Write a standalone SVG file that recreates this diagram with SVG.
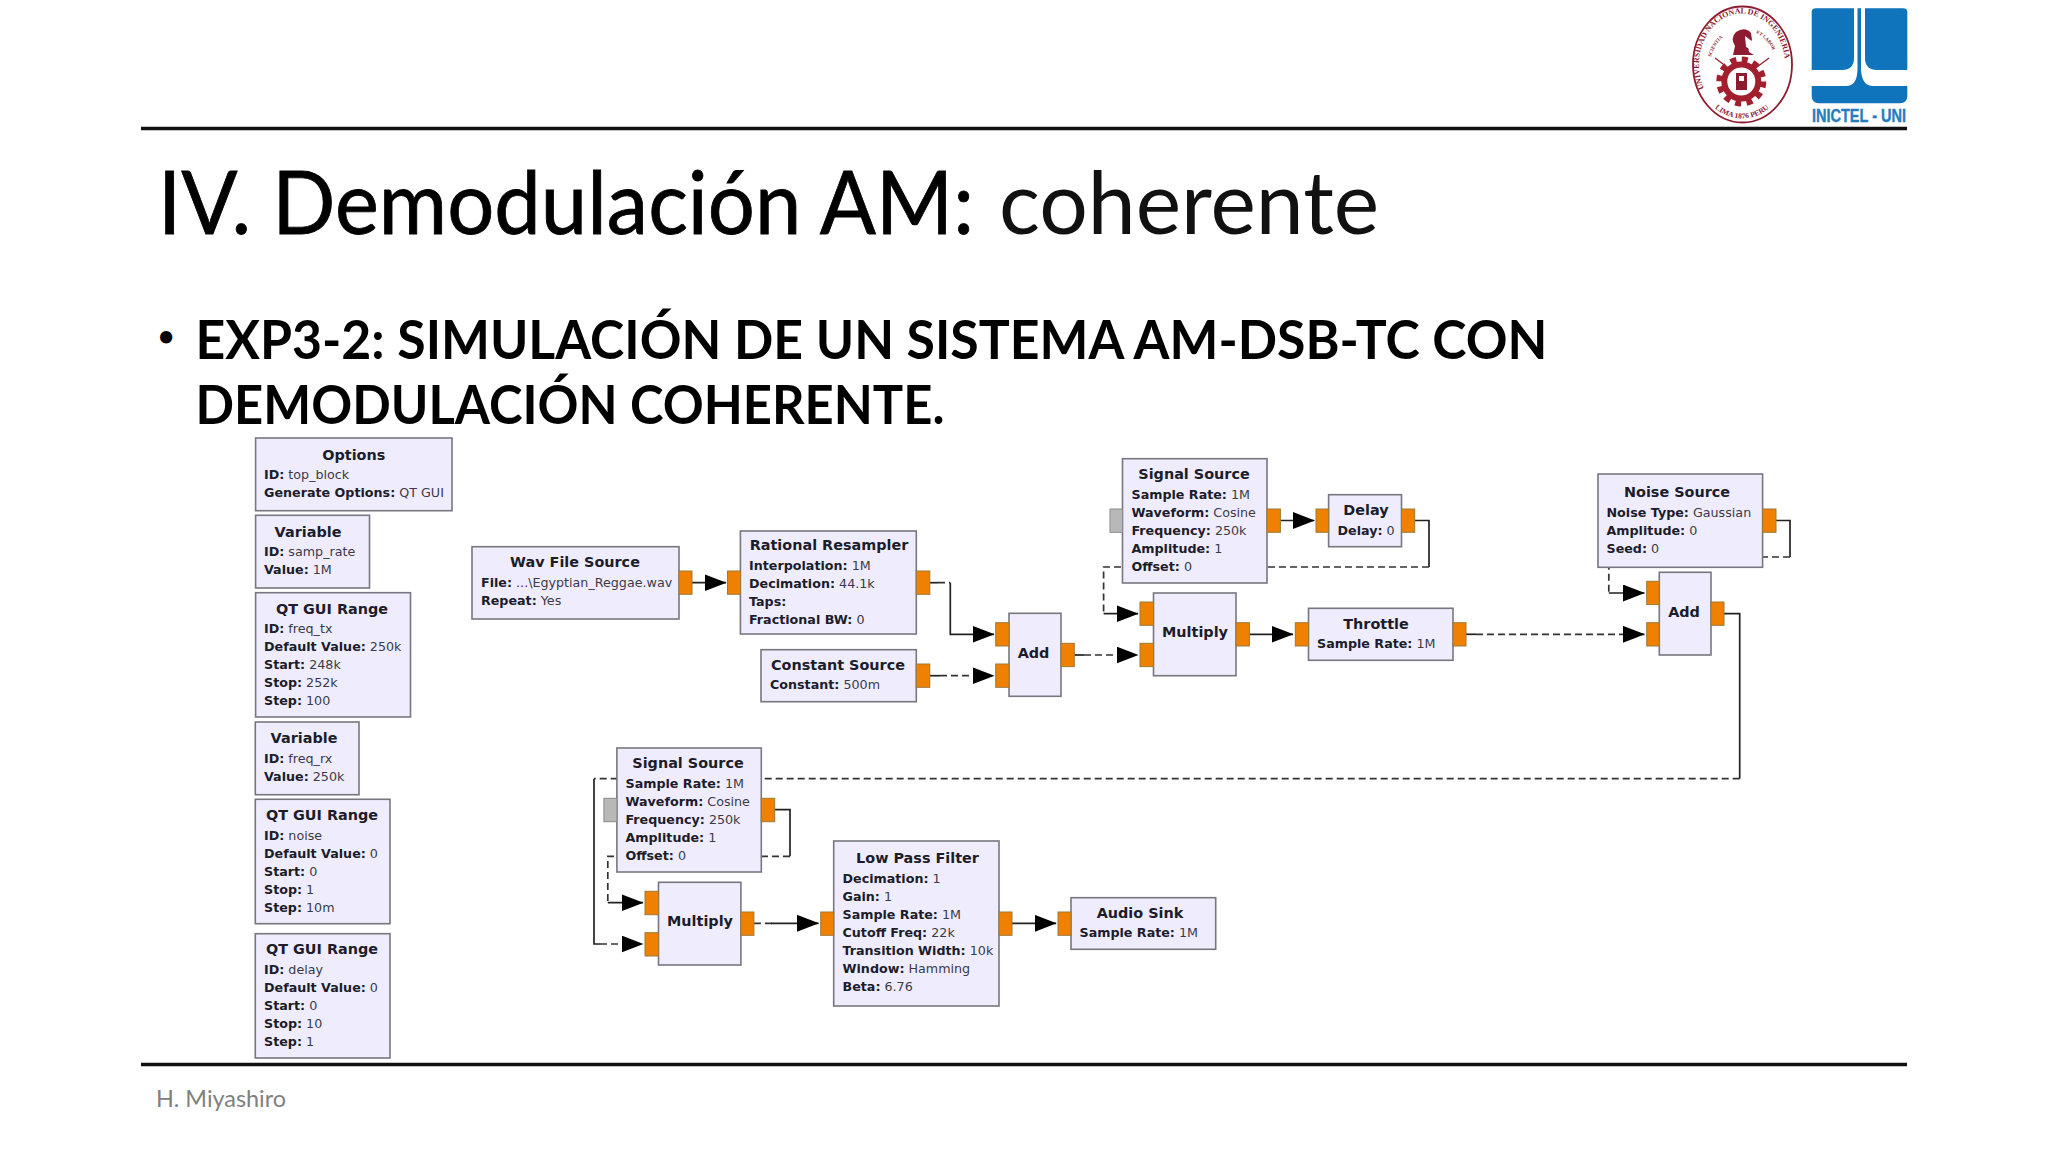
<svg xmlns="http://www.w3.org/2000/svg" width="2048" height="1152" viewBox="0 0 2048 1152">
<style>
.box{fill:#efedfd;stroke:#77777f;stroke-width:1.6}
.port{fill:#f08000;stroke:#9a7a3a;stroke-width:1}
.gray{fill:#b8b8b8;stroke:#8a8a8a;stroke-width:1}
.t{font-family:"DejaVu Sans",sans-serif;font-size:14.4px;font-weight:bold;fill:#1c1c2a;text-anchor:middle}
.l{font-family:"DejaVu Sans",sans-serif;font-size:12.7px;fill:#3a3a48}
.l tspan{font-weight:bold;fill:#1c1c2a}
.c{fill:none;stroke:#222;stroke-width:1.7}
.d{fill:none;stroke:#333;stroke-width:1.7;stroke-dasharray:7 4}
.a{marker-end:url(#arr)}
.rule{stroke:#111;stroke-width:3.5}
.seal{fill:none;stroke:#8e1c30}
.st{font-family:"Liberation Serif",serif;font-weight:bold;fill:#8e1c30}
</style>
<defs>
<marker id="arr" markerUnits="userSpaceOnUse" markerWidth="22" markerHeight="17" viewBox="0 0 22 17" refX="21.5" refY="8.5" orient="auto"><path d="M0 0L22 8.5L0 17Z" fill="#000"/></marker>
</defs>
<rect width="2048" height="1152" fill="#fff"/>
<line class="rule" x1="141" y1="128.500" x2="1907" y2="128.500"/>
<line class="rule" x1="141" y1="1064.500" x2="1907" y2="1064.500"/>
<text x="158" y="234" font-family="Lato,sans-serif" font-size="88" fill="#000" stroke="#000" stroke-width="0.8" textLength="816" lengthAdjust="spacingAndGlyphs">IV. Demodulación AM:</text>
<text x="999" y="234" font-family="Lato,sans-serif" font-size="88" fill="#111" textLength="380" lengthAdjust="spacingAndGlyphs">coherente</text>
<text x="158" y="346" font-family="Lato,sans-serif" font-size="28" font-weight="bold" fill="#000">•</text>
<text x="195.500" y="359" font-family="Lato,sans-serif" font-size="53" font-weight="bold" fill="#000" textLength="1352" lengthAdjust="spacingAndGlyphs">EXP3-2: SIMULACIÓN DE UN SISTEMA AM-DSB-TC CON</text>
<text x="195.500" y="424" font-family="Lato,sans-serif" font-size="53" font-weight="bold" fill="#000" textLength="749" lengthAdjust="spacingAndGlyphs">DEMODULACIÓN COHERENTE.</text>
<text x="156" y="1107" font-family="Lato,sans-serif" font-size="24" fill="#808080" textLength="130" lengthAdjust="spacingAndGlyphs">H. Miyashiro</text>

<g id="logo-uni">
<ellipse class="seal" cx="1742.500" cy="64.500" rx="49.500" ry="58" stroke-width="1.8"/>
<path id="arcTop" d="M1704 88.400A43 51 0 1 1 1780 88.400" fill="none"/>
<path id="arcBot" d="M1712 105.400A46 54 0 0 0 1772 105.400" fill="none"/>
<path id="arcL" d="M1711 57A32 36 0 0 1 1730 33" fill="none"/>
<path id="arcR" d="M1756 33A32 36 0 0 1 1775 57" fill="none"/>
<text class="st" font-size="8"><textPath href="#arcTop">UNIVERSIDAD NACIONAL DE INGENIERIA</textPath></text>
<text class="st" font-size="7.500" text-anchor="middle"><textPath href="#arcBot" startOffset="50%">LIMA 1876 PERU</textPath></text>
<text class="st" font-size="4.800"><textPath href="#arcL">SCIENTIA</textPath></text>
<text class="st" font-size="4.800"><textPath href="#arcR">ET LABOR</textPath></text>
<path d="M1733 55L1735 46Q1730 38 1736 32Q1745 26 1751 33L1752 40L1748 46L1749 52L1754 55Z" fill="#8e1c30"/>
<path d="M1745 36L1753 42L1750 49L1746 47Z" fill="#fff"/>
<path d="M1715 58L1731 70M1769 58L1753 70" stroke="#8e1c30" stroke-width="1.200" fill="none"/>
<circle cx="1741.300" cy="81.500" r="22" fill="none" stroke="#a31f2e" stroke-width="6" stroke-dasharray="6 5.500"/>
<circle cx="1741.300" cy="81.500" r="17" fill="none" stroke="#a31f2e" stroke-width="6"/>
<rect x="1736" y="73" width="11" height="17" fill="#8e1c30"/>
<rect x="1739" y="76" width="5" height="5" fill="#fff"/>
</g>
<g id="logo-inictel">
<path d="M1811.700 12Q1811.700 8.300 1816 8.300H1854V58Q1854 70 1842 70H1811.700Z" fill="#0f74bb"/>
<path d="M1865 8.300H1903Q1907.300 8.300 1907.300 12V70H1877Q1865 70 1865 58Z" fill="#0f74bb"/>
<path d="M1811.700 86H1846Q1857 86 1857.500 70V8.300H1861V70Q1862 86 1873 86H1907.300V96Q1907.300 103.300 1900 103.300H1819Q1811.700 103.300 1811.700 96Z" fill="#0f74bb"/>
<text x="1812" y="122" font-family="Liberation Sans,sans-serif" font-size="18" font-weight="bold" fill="#2a7dbd" stroke="#2a7dbd" stroke-width="0.4" textLength="94" lengthAdjust="spacingAndGlyphs">INICTEL - UNI</text>
</g>

<g id="connectors">
<path class="c a" d="M692 582.700H726"/>
<path class="c" d="M930 582.700H938"/><path class="d" d="M938 582.700H950.300"/><path class="c a" d="M950.300 582.700V634.300H994"/>
<path class="c" d="M930 675.700H940"/><path class="d a" d="M940 675.700H994"/>
<path class="c" d="M1074.300 655H1084"/><path class="d a" d="M1084 655H1138"/>
<path class="c a" d="M1280.400 520.500H1314.300"/>
<path class="c" d="M1414.700 520.500H1429V567"/><path class="d" d="M1429 567H1103.600V613.700"/><path class="c a" d="M1103.600 613.700H1138"/>
<path class="c a" d="M1249.400 634.300H1293"/>
<path class="c" d="M1466 634.300H1476"/><path class="d a" d="M1476 634.300H1644.400"/>
<path class="c" d="M1776 520.500H1790V557"/><path class="d" d="M1790 557H1608.800V593"/><path class="c a" d="M1608.800 593H1644.400"/>
<path class="c" d="M1724 613.700H1739.700V778.700"/><path class="d" d="M1739.700 778.700H594"/><path class="c" d="M594 778.700V944H600"/><path class="d a" d="M600 944H643"/>
<path class="c" d="M774.700 809.700H790V856.300"/><path class="d" d="M790 856.300H607.800V902.700"/><path class="c a" d="M607.800 902.700H643"/>
<path class="d" d="M753.900 923.300H775"/><path class="c a" d="M771 923.300H818.500"/>
<path class="c a" d="M1012 923.300H1056.100"/>
</g>

<g id="n-options"><rect class="box" x="255.600" y="438" width="196.400" height="72.700"/><text class="t" x="353.800" y="459.500">Options</text><text class="l" x="264" y="479"><tspan>ID:</tspan> top_block</text><text class="l" x="264" y="497"><tspan>Generate Options:</tspan> QT GUI</text></g>
<g id="n-samp"><rect class="box" x="255.600" y="515.300" width="113.900" height="72.700"/><text class="t" x="308" y="536.500">Variable</text><text class="l" x="264" y="556"><tspan>ID:</tspan> samp_rate</text><text class="l" x="264" y="574"><tspan>Value:</tspan> 1M</text></g>
<g id="n-freqtx"><rect class="box" x="255.600" y="592.700" width="154.900" height="124.300"/><text class="t" x="332" y="613.500">QT GUI Range</text><text class="l" x="264" y="633"><tspan>ID:</tspan> freq_tx</text><text class="l" x="264" y="651"><tspan>Default Value:</tspan> 250k</text><text class="l" x="264" y="669"><tspan>Start:</tspan> 248k</text><text class="l" x="264" y="687"><tspan>Stop:</tspan> 252k</text><text class="l" x="264" y="705"><tspan>Step:</tspan> 100</text></g>
<g id="n-freqrx"><rect class="box" x="255.300" y="722" width="103.700" height="72.700"/><text class="t" x="304" y="743">Variable</text><text class="l" x="264" y="763"><tspan>ID:</tspan> freq_rx</text><text class="l" x="264" y="781"><tspan>Value:</tspan> 250k</text></g>
<g id="n-noise"><rect class="box" x="255.300" y="799.300" width="134.700" height="124.400"/><text class="t" x="322" y="819.500">QT GUI Range</text><text class="l" x="264" y="840"><tspan>ID:</tspan> noise</text><text class="l" x="264" y="858"><tspan>Default Value:</tspan> 0</text><text class="l" x="264" y="876"><tspan>Start:</tspan> 0</text><text class="l" x="264" y="894"><tspan>Stop:</tspan> 1</text><text class="l" x="264" y="912"><tspan>Step:</tspan> 10m</text></g>
<g id="n-delayvar"><rect class="box" x="255.300" y="933.700" width="134.700" height="124.300"/><text class="t" x="322" y="954">QT GUI Range</text><text class="l" x="264" y="974"><tspan>ID:</tspan> delay</text><text class="l" x="264" y="992"><tspan>Default Value:</tspan> 0</text><text class="l" x="264" y="1010"><tspan>Start:</tspan> 0</text><text class="l" x="264" y="1028"><tspan>Stop:</tspan> 10</text><text class="l" x="264" y="1046"><tspan>Step:</tspan> 1</text></g>

<g id="n-wav"><rect class="box" x="472" y="546.700" width="207" height="72.300"/><rect class="port" x="679" y="571" width="13" height="23.300"/><text class="t" x="575" y="567">Wav File Source</text><text class="l" x="481" y="587"><tspan>File:</tspan> ...\Egyptian_Reggae.wav</text><text class="l" x="481" y="605"><tspan>Repeat:</tspan> Yes</text></g>
<g id="n-resampler"><rect class="box" x="740.400" y="531" width="175.900" height="103"/><rect class="port" x="727.500" y="571" width="13" height="23.300"/><rect class="port" x="916.300" y="571" width="13.500" height="23.300"/><text class="t" x="829" y="550">Rational Resampler</text><text class="l" x="749" y="570"><tspan>Interpolation:</tspan> 1M</text><text class="l" x="749" y="588"><tspan>Decimation:</tspan> 44.1k</text><text class="l" x="749" y="606"><tspan>Taps:</tspan></text><text class="l" x="749" y="624"><tspan>Fractional BW:</tspan> 0</text></g>
<g id="n-constant"><rect class="box" x="761" y="649.700" width="155.300" height="52"/><rect class="port" x="916.300" y="664" width="13.500" height="23.300"/><text class="t" x="838" y="670">Constant Source</text><text class="l" x="770" y="689"><tspan>Constant:</tspan> 500m</text></g>
<g id="n-add1"><rect class="box" x="1009" y="613.300" width="52" height="83"/><rect class="port" x="995.700" y="622.700" width="13.300" height="23.300"/><rect class="port" x="995.700" y="664" width="13.300" height="23.300"/><rect class="port" x="1061" y="643.300" width="13.300" height="23.300"/><text class="t" x="1033.500" y="658">Add</text></g>
<g id="n-sig1"><rect class="box" x="1122.500" y="458.700" width="144.500" height="124.300"/><rect class="gray" x="1110" y="509" width="12.500" height="23.300"/><rect class="port" x="1267" y="509" width="13.400" height="23.300"/><text class="t" x="1194" y="479">Signal Source</text><text class="l" x="1131.500" y="499"><tspan>Sample Rate:</tspan> 1M</text><text class="l" x="1131.500" y="517"><tspan>Waveform:</tspan> Cosine</text><text class="l" x="1131.500" y="535"><tspan>Frequency:</tspan> 250k</text><text class="l" x="1131.500" y="553"><tspan>Amplitude:</tspan> 1</text><text class="l" x="1131.500" y="571"><tspan>Offset:</tspan> 0</text></g>
<g id="n-delay"><rect class="box" x="1328.600" y="494.700" width="72.900" height="52"/><rect class="port" x="1316" y="509" width="12.600" height="23.300"/><rect class="port" x="1401.500" y="509" width="13.200" height="23.300"/><text class="t" x="1366" y="515">Delay</text><text class="l" x="1337.500" y="535"><tspan>Delay:</tspan> 0</text></g>
<g id="n-mul1"><rect class="box" x="1153.500" y="593" width="82.500" height="82.700"/><rect class="port" x="1140" y="602" width="13.500" height="23.300"/><rect class="port" x="1140" y="643.300" width="13.500" height="23.300"/><rect class="port" x="1236" y="622.700" width="13.400" height="23.300"/><text class="t" x="1195" y="637">Multiply</text></g>
<g id="n-throttle"><rect class="box" x="1308.500" y="608.300" width="144.500" height="52"/><rect class="port" x="1295.300" y="622.700" width="13.200" height="23.300"/><rect class="port" x="1453" y="622.700" width="13" height="23.300"/><text class="t" x="1376" y="628.500">Throttle</text><text class="l" x="1317" y="648"><tspan>Sample Rate:</tspan> 1M</text></g>
<g id="n-noisesrc"><rect class="box" x="1598" y="474" width="164.600" height="93.300"/><rect class="port" x="1762.600" y="509" width="13.400" height="23.300"/><text class="t" x="1677" y="497">Noise Source</text><text class="l" x="1606.500" y="517"><tspan>Noise Type:</tspan> Gaussian</text><text class="l" x="1606.500" y="535"><tspan>Amplitude:</tspan> 0</text><text class="l" x="1606.500" y="553"><tspan>Seed:</tspan> 0</text></g>
<g id="n-add2"><rect class="box" x="1659.300" y="572.300" width="51.700" height="82.700"/><rect class="port" x="1646.700" y="581.300" width="12.600" height="23.300"/><rect class="port" x="1646.700" y="622.700" width="12.600" height="23.300"/><rect class="port" x="1711" y="602" width="13" height="23.300"/><text class="t" x="1684" y="616.500">Add</text></g>
<g id="n-sig2"><rect class="box" x="616.900" y="748" width="144.400" height="124"/><rect class="gray" x="603.900" y="798.300" width="13" height="23.400"/><rect class="port" x="761.300" y="798.300" width="13.400" height="23.400"/><text class="t" x="688" y="768">Signal Source</text><text class="l" x="625.500" y="787.500"><tspan>Sample Rate:</tspan> 1M</text><text class="l" x="625.500" y="805.500"><tspan>Waveform:</tspan> Cosine</text><text class="l" x="625.500" y="823.500"><tspan>Frequency:</tspan> 250k</text><text class="l" x="625.500" y="841.500"><tspan>Amplitude:</tspan> 1</text><text class="l" x="625.500" y="859.500"><tspan>Offset:</tspan> 0</text></g>
<g id="n-mul2"><rect class="box" x="658.500" y="882.300" width="82.400" height="82.700"/><rect class="port" x="645" y="891.300" width="13.500" height="23.400"/><rect class="port" x="645" y="932.700" width="13.500" height="23.300"/><rect class="port" x="740.900" y="912" width="13" height="23.300"/><text class="t" x="700" y="926">Multiply</text></g>
<g id="n-lpf"><rect class="box" x="833.700" y="841" width="165.300" height="165"/><rect class="port" x="820.700" y="912" width="13" height="23.300"/><rect class="port" x="999" y="912" width="13" height="23.300"/><text class="t" x="917.500" y="863">Low Pass Filter</text><text class="l" x="842.500" y="883"><tspan>Decimation:</tspan> 1</text><text class="l" x="842.500" y="901"><tspan>Gain:</tspan> 1</text><text class="l" x="842.500" y="919"><tspan>Sample Rate:</tspan> 1M</text><text class="l" x="842.500" y="937"><tspan>Cutoff Freq:</tspan> 22k</text><text class="l" x="842.500" y="955"><tspan>Transition Width:</tspan> 10k</text><text class="l" x="842.500" y="973"><tspan>Window:</tspan> Hamming</text><text class="l" x="842.500" y="991"><tspan>Beta:</tspan> 6.76</text></g>
<g id="n-audio"><rect class="box" x="1071" y="897.700" width="144.700" height="51.600"/><rect class="port" x="1058" y="912" width="13" height="23.300"/><text class="t" x="1140" y="917.500">Audio Sink</text><text class="l" x="1079.500" y="937"><tspan>Sample Rate:</tspan> 1M</text></g>
</svg>
